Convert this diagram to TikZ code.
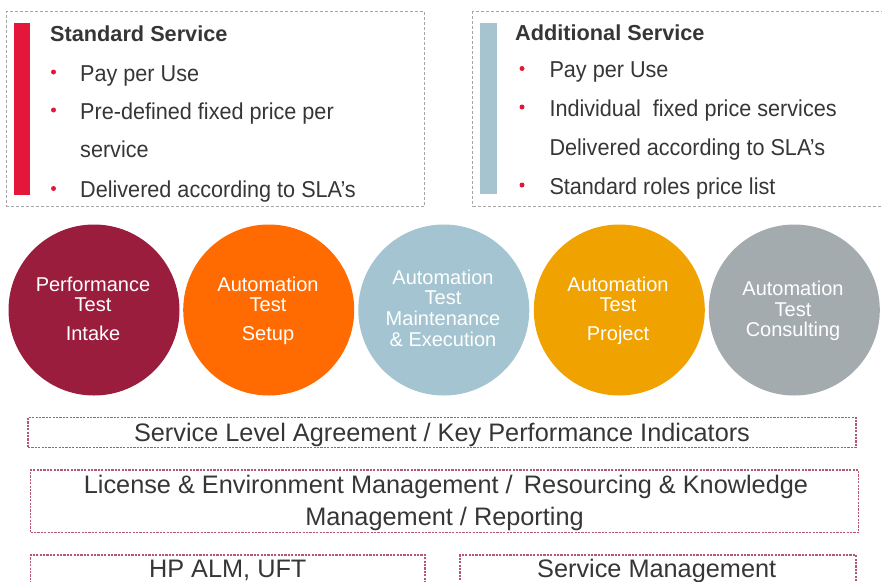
\documentclass[tikz,border=0pt]{standalone}
\usepackage{fontspec}
\setmainfont{Liberation Sans}
\newfontfamily\itemfont[FakeStretch=0.94]{Liberation Sans}

\definecolor{txtgray}{HTML}{363636}
\definecolor{barred}{HTML}{E4173A}
\definecolor{barblue}{HTML}{A5C4D0}
\definecolor{boxgray}{HTML}{A6A6A6}
\definecolor{boxred}{HTML}{B5576F}
\definecolor{cmaroon}{HTML}{9A1D3D}
\definecolor{corange}{HTML}{FF6B00}
\definecolor{cblue}{HTML}{A3C4D0}
\definecolor{camber}{HTML}{F0A200}
\definecolor{cgray}{HTML}{A4ABAE}

\tikzset{
  topbox/.style={draw=boxgray, line width=0.9pt, dash pattern=on 3pt off 2pt,
    rectangle, inner sep=0pt},
  sidebar/.style={rectangle, inner sep=0pt, draw=none},
  layerbox/.style={draw=boxred, line width=1.4pt, dash pattern=on 2.2pt off 1.2pt,
    rectangle, inner sep=0pt},
  headtxt/.style={anchor=base west, inner sep=0pt, text=txtgray,
    font=\fontsize{21.7}{26}\selectfont\bfseries},
  itemtxt/.style={anchor=base west, inner sep=0pt, text=txtgray,
    font=\itemfont\fontsize{23}{27}\selectfont},
  layertxt/.style={anchor=base, inner sep=0pt, text=txtgray,
    font=\fontsize{25.3}{30}\selectfont},
  disc/.style={circle, draw=none, minimum size=171pt, inner sep=0pt},
  disctxt/.style={anchor=base, inner sep=0pt, text=white,
    font=\fontsize{20}{24}\selectfont},
  dot/.style={circle, fill=barred, draw=none, minimum size=5pt, inner sep=0pt},
}

\begin{document}
\begin{tikzpicture}[x=1pt, y=-1pt]
\useasboundingbox (0,0) rectangle (882,581);
\clip (0,0) rectangle (882,581);

% ---- Standard service panel
\node[topbox, minimum width=418.5pt, minimum height=195pt] (std) at (215.25,109) {};
\node[sidebar, fill=barred, minimum width=16.5pt, minimum height=172pt] (stdbar) at (21.75,109) {};
\node[headtxt] (stdhead) at (50,41.7) {Standard Service};
\node[dot] (sd1) at (53.5,72) {};
\node[itemtxt] (si1) at (80,81) {Pay per Use};
\node[dot] (sd2) at (53.5,110) {};
\node[itemtxt] (si2) at (80,119) {Pre-defined fixed price per};
\node[itemtxt] (si2b) at (80,157.7) {service};
\node[dot] (sd3) at (53.5,188.5) {};
\node[itemtxt] (si3) at (80,197.3) {Delivered according to SLA’s};

% ---- Additional service panel
\node[topbox, minimum width=418pt, minimum height=195pt] (add) at (681.5,109) {};
\node[sidebar, fill=barblue, minimum width=16.5pt, minimum height=171pt] (addbar) at (488.25,108.5) {};
\node[headtxt] (addhead) at (515,40) {Additional Service};
\node[dot] (ad1) at (522,68.5) {};
\node[itemtxt] (ai1) at (549.3,77.3) {Pay per Use};
\node[dot] (ad2) at (522,107) {};
\node[itemtxt] (ai2) at (549.3,116) {Individual~ fixed price services};
\node[itemtxt] (ai2b) at (549.3,155) {Delivered according to SLA’s};
\node[dot] (ad3) at (522,185) {};
\node[itemtxt] (ai3) at (549.3,194) {Standard roles price list};

% ---- Service circles
\node[disc, fill=cmaroon] (c1) at (94,310) {};
\node[disc, fill=corange] (c2) at (268.7,310) {};
\node[disc, fill=cblue]   (c3) at (443.8,310) {};
\node[disc, fill=camber]  (c4) at (619.3,310) {};
\node[disc, fill=cgray]   (c5) at (794.3,310) {};

\node[disctxt] (c1a) at (93,291) {Performance};
\node[disctxt] (c1b) at (93,311.7) {Test};
\node[disctxt] (c1c) at (93,340) {Intake};

\node[disctxt] (c2a) at (268,291) {Automation};
\node[disctxt] (c2b) at (268,311.7) {Test};
\node[disctxt] (c2c) at (268,340) {Setup};

\node[disctxt] (c3a) at (443,284) {Automation};
\node[disctxt] (c3b) at (443,304.5) {Test};
\node[disctxt] (c3c) at (443,325.5) {Maintenance};
\node[disctxt] (c3d) at (443,346.5) {\& Execution};

\node[disctxt] (c4a) at (618,291) {Automation};
\node[disctxt] (c4b) at (618,311.7) {Test};
\node[disctxt] (c4c) at (618,340) {Project};

\node[disctxt] (c5a) at (793,295) {Automation};
\node[disctxt] (c5b) at (793,316) {Test};
\node[disctxt] (c5c) at (793,336.7) {Consulting};

% ---- Supporting layers
\node[layerbox, minimum width=828pt, minimum height=30pt] (sla) at (442,432.5) {};
\node[layertxt] (slat) at (442,441) {Service Level Agreement / Key Performance Indicators};

\node[layerbox, minimum width=828pt, minimum height=62.5pt] (lic) at (444.5,501.25) {};
\node[layertxt] (lica) at (446,493.3) {License \& Environment Management /\, Resourcing \& Knowledge};
\node[layertxt] (licb) at (444.5,525.5) {Management / Reporting};

\node[layerbox, minimum width=394.5pt, minimum height=45pt] (tools) at (227.75,577.5) {};
\node[layertxt] (toolst) at (227.75,577.5) {HP ALM, UFT};

\node[layerbox, minimum width=396pt, minimum height=45pt] (svc) at (658,577.5) {};
\node[layertxt] (svct) at (656.7,577) {Service Management};
\end{tikzpicture}
\end{document}
